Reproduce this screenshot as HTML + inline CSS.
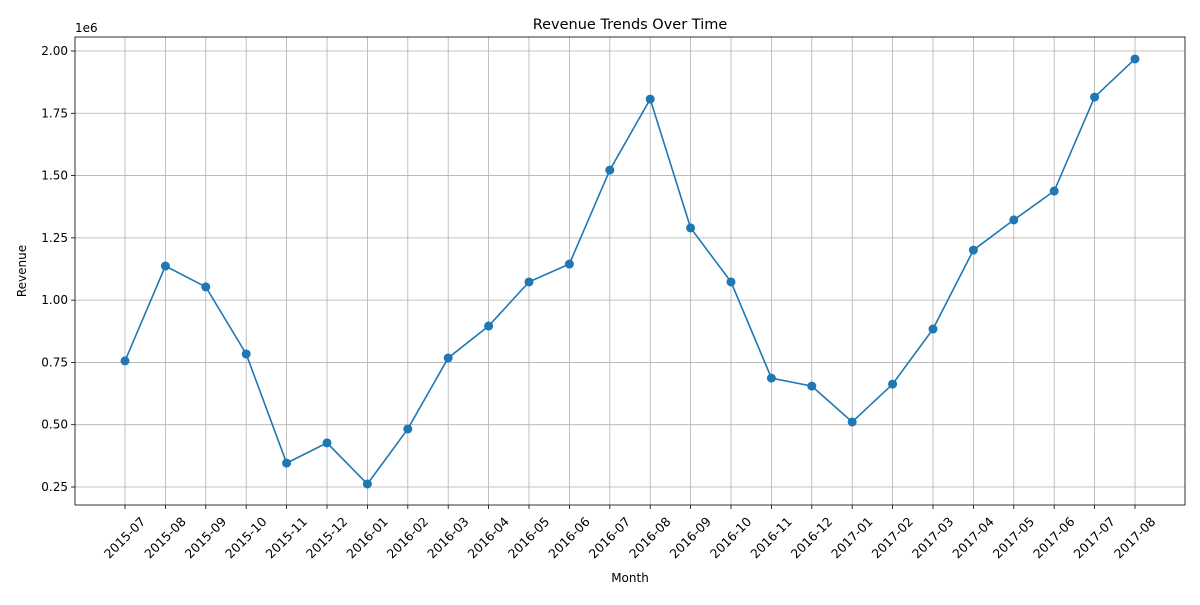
<!DOCTYPE html>
<html><head><meta charset="utf-8"><style>
body{margin:0;background:#fff;font-family:"Liberation Sans","DejaVu Sans",sans-serif;}
svg text{font-family:"DejaVu Sans","Liberation Sans",sans-serif;fill:#000;}
</style></head><body>
<svg id="chart" width="1200" height="600" xmlns="http://www.w3.org/2000/svg"></svg>
<script>
const months=["2015-07","2015-08","2015-09","2015-10","2015-11","2015-12","2016-01","2016-02","2016-03","2016-04","2016-05","2016-06","2016-07","2016-08","2016-09","2016-10","2016-11","2016-12","2017-01","2017-02","2017-03","2017-04","2017-05","2017-06","2017-07","2017-08"];
const revenue=[0.756,1.137,1.053,0.784,0.346,0.427,0.262,0.483,0.768,0.896,1.073,1.145,1.522,1.807,1.290,1.073,0.687,0.655,0.511,0.663,0.884,1.201,1.322,1.438,1.815,1.968];
const yTicks=[0.25,0.5,0.75,1.0,1.25,1.5,1.75,2.0];
const yTickLabels=["0.25","0.50","0.75","1.00","1.25","1.50","1.75","2.00"];

const svg=document.getElementById('chart');
const NS="http://www.w3.org/2000/svg";
const L=75,R=1185,T=37,B=505;
const x0=125,dx=(1135-125)/(months.length-1);
const xs=i=>x0+i*dx;
const ys=v=>51+(2.0-v)*249.14;
function mk(tag,attrs,parent){const e=document.createElementNS(NS,tag);for(const k in attrs)e.setAttribute(k,attrs[k]);(parent||svg).appendChild(e);return e;}

const grid=mk('g',{});


months.forEach((m,i)=>{mk('line',{x1:xs(i),x2:xs(i),y1:T,y2:B,stroke:'#b0b0b0','stroke-width':0.8},grid);});
yTicks.forEach(v=>{mk('line',{x1:L,x2:R,y1:ys(v),y2:ys(v),stroke:'#b0b0b0','stroke-width':0.8},grid);});

const frame=mk('rect',{x:L,y:T,width:R-L,height:B-T,fill:'none',stroke:'#000','stroke-width':0.8});



months.forEach((m,i)=>{
  mk('line',{x1:xs(i),x2:xs(i),y1:B,y2:B+4,stroke:'#000','stroke-width':0.8});
  const cx=xs(i), cy=B+33;
  const t=mk('text',{x:cx,y:cy+4,'font-size':12.5,'text-anchor':'middle',transform:`rotate(-45 ${cx} ${cy})`});
  t.textContent=m;
  
  
});
yTicks.forEach((v,i)=>{
  mk('line',{x1:L-4,x2:L,y1:ys(v),y2:ys(v),stroke:'#000','stroke-width':0.8});
  const t=mk('text',{x:L-7,y:ys(v)+4,'font-size':12,'text-anchor':'end'});
  t.textContent=yTickLabels[i];
  
  
});

const line=mk('polyline',{points:revenue.map((v,i)=>xs(i)+','+ys(v)).join(' '),fill:'none',stroke:'#1f77b4','stroke-width':1.6});


revenue.forEach((v,i)=>{
  const c=mk('circle',{cx:xs(i),cy:ys(v),r:4.5,fill:'#1f77b4'});
  
  
});

const title=mk('text',{x:630,y:29,'font-size':14.5,'text-anchor':'middle'});
title.textContent='Revenue Trends Over Time';


const xt=mk('text',{x:630,y:582,'font-size':12,'text-anchor':'middle'});
xt.textContent='Month';


const yt=mk('text',{x:26,y:271,'font-size':12,'text-anchor':'middle',transform:'rotate(-90 26 271)'});
yt.textContent='Revenue';


const off=mk('text',{x:75,y:32,'font-size':12});
off.textContent='1e6';


</script>
</body></html>
